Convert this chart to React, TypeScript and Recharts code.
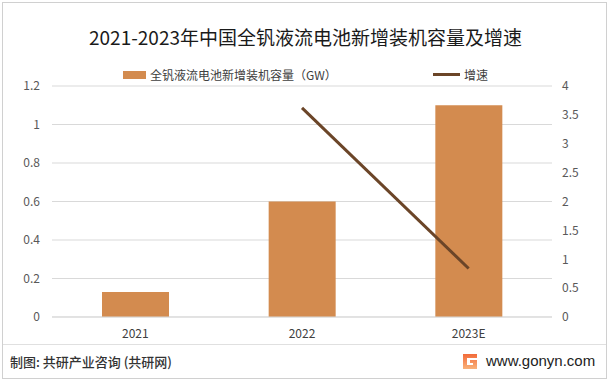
import React from 'react';
import { ComposedChart, Bar, Line, XAxis, YAxis, CartesianGrid, Legend } from 'recharts';

const categories = ['2021', '2022', '2023E'];
const capacity = [0.13, 0.6, 1.1];
const growth: (number | null)[] = [null, 3.62, 0.84];
const leftTicks = [0, 0.2, 0.4, 0.6, 0.8, 1, 1.2];
const rightTicks = [0, 0.5, 1, 1.5, 2, 2.5, 3, 3.5, 4];

const data = categories.map((c, i) => ({ name: c, capacity: capacity[i], growth: growth[i] }));

const FONT = '"Noto Sans CJK SC", "Noto Sans", sans-serif';
const BAR = '#D38B4F';
const LINE = '#6B4528';

const renderLegend = () => (
  <div style={{ display: 'flex', justifyContent: 'center', alignItems: 'center', fontFamily: FONT, fontSize: 12, color: '#404040' }}>
    <span style={{ display: 'inline-block', width: 23, height: 8, background: BAR, marginRight: 4 }} />
    <span>全钒液流电池新增装机容量（GW）</span>
    <span style={{ display: 'inline-block', width: 27, height: 3, background: LINE, marginLeft: 96, marginRight: 4 }} />
    <span>增速</span>
  </div>
);

export default function App() {
  return (
    <div style={{ position: 'absolute', left: 0, top: 0, width: 611, height: 384, background: '#fff', fontFamily: FONT }}>
      <div style={{ position: 'absolute', left: 2, top: 2, width: 603, height: 375, border: '1px solid #d0d0d0' }} />
      <div style={{ position: 'absolute', left: 0, top: 23, width: 611, textAlign: 'center', fontSize: 19, color: '#1a1a1a', lineHeight: '28px' }}>
        2021-2023年中国全钒液流电池新增装机容量及增速
      </div>
      <div style={{ position: 'absolute', left: 0, top: 0 }}>
        <ComposedChart width={611} height={384} data={data} margin={{ top: 86, right: 0, bottom: 36, left: 0 }} barCategoryGap="30%">
          <CartesianGrid yAxisId="left" vertical={false} stroke="#d9d9d9" />
          <XAxis dataKey="name" axisLine={{ stroke: '#d9d9d9' }} tickLine={false} tickSize={0} tickMargin={12} height={31}
            tick={{ fill: '#404040', fontSize: 12, fontFamily: FONT }} />
          <YAxis yAxisId="left" domain={[0, 1.2]} ticks={leftTicks} width={52} axisLine={false} tickLine={false} tickSize={0} tickMargin={12}
            tick={{ fill: '#595959', fontSize: 12, fontFamily: FONT }} />
          <YAxis yAxisId="right" orientation="right" domain={[0, 4]} ticks={rightTicks} width={59} axisLine={false} tickLine={false} tickSize={0} tickMargin={10}
            tick={{ fill: '#595959', fontSize: 12, fontFamily: FONT, textAnchor: 'start' }} />
          <Legend verticalAlign="middle" align="center" content={renderLegend} wrapperStyle={{ top: 66, left: 0, width: 611 }} />
          <Bar yAxisId="left" dataKey="capacity" fill={BAR} isAnimationActive={false} />
          <Line yAxisId="right" dataKey="growth" stroke={LINE} strokeWidth={3} dot={false} activeDot={false} isAnimationActive={false} connectNulls={false} />
        </ComposedChart>
      </div>
      <div style={{ position: 'absolute', left: 3, top: 344, width: 603, height: 1, background: '#e0e0e0' }} />
      <div style={{ position: 'absolute', left: 10, top: 352, fontSize: 13, color: '#333', lineHeight: '20px', fontWeight: 500 }}>
        制图: 共研产业咨询 (共研网)
      </div>
      <svg style={{ position: 'absolute', left: 462, top: 353 }} width={16} height={17} viewBox="0 0 16 17">
        <defs>
          <linearGradient id="lg" x1="0" y1="0" x2="0" y2="1">
            <stop offset="0" stopColor="#F26B3A" />
            <stop offset="1" stopColor="#F9B27A" />
          </linearGradient>
        </defs>
        <path d="M1 1 H15 V5 H5 V12 H11 V10 H8 V7 H15 V16 H1 Z" fill="url(#lg)" />
      </svg>
      <div style={{ position: 'absolute', left: 486, top: 350, fontSize: 15, color: '#222', lineHeight: '22px', fontFamily: '"Liberation Sans", Arial, sans-serif' }}>
        www.gonyn.com
      </div>
    </div>
  );
}
